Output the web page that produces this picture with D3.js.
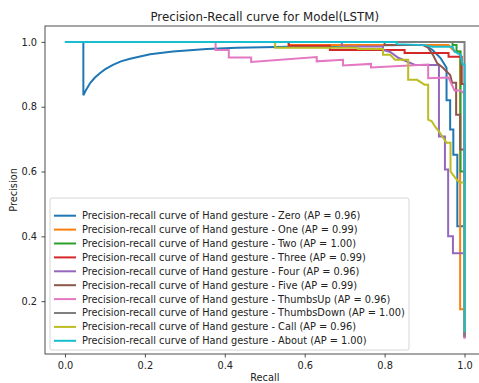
<!DOCTYPE html>
<html>
<head>
<meta charset="utf-8">
<script src="https://cdn.jsdelivr.net/npm/d3@7"></script>
<style>
  body { margin: 0; background: #fff; }
  svg { font-family: "DejaVu Sans", sans-serif; }
</style>
</head>
<body>
<div id="chart"></div>
<script>
// class names and AP scores shown in the legend
const classNames = ['Zero', 'One', 'Two', 'Three', 'Four', 'Five', 'ThumbsUp', 'ThumbsDown', 'Call', 'About'];
const apValues = [0.96, 0.99, 1.00, 0.99, 0.96, 0.99, 0.96, 1.00, 0.96, 1.00];

// [recall, precision] points
const zeroPR = [[0, 1], [0.046, 1], [0.046, 0.835], [0.052, 0.85], [0.063, 0.873], [0.075, 0.89], [0.088, 0.904],
  [0.1, 0.915], [0.12, 0.929], [0.14, 0.94], [0.163, 0.948], [0.213, 0.962], [0.27, 0.97], [0.355, 0.978],
  [0.43, 0.982], [0.56, 0.985], [0.7, 0.988], [0.85, 0.99], [0.9, 0.99], [0.92, 0.975], [0.94, 0.95],
  [0.955, 0.92], [0.955, 0.82], [0.964, 0.82], [0.964, 0.73], [0.972, 0.73], [0.972, 0.652], [0.982, 0.652],
  [0.982, 0.431], [1.0, 0.431], [1.0, 0.09]];
const onePR = [[0, 1], [0.56, 1], [0.56, 0.99], [0.96, 0.99], [0.975, 0.97], [0.989, 0.97], [0.989, 0.175],
  [1.0, 0.175], [1.0, 0.09]];
const twoPR = [[0, 1], [0.97, 1], [0.97, 0.99], [0.98, 0.99], [0.98, 0.97], [0.99, 0.97], [0.99, 0.6],
  [1.0, 0.6], [1.0, 0.09]];
const threePR = [[0, 1], [0.56, 1], [0.56, 0.988], [0.663, 0.988], [0.663, 0.975], [0.85, 0.975], [0.85, 0.966],
  [0.96, 0.966], [0.96, 0.954], [0.993, 0.954], [0.993, 0.87], [1.0, 0.87], [1.0, 0.09]];
const fourPR = [[0, 1], [0.693, 1], [0.693, 0.986], [0.796, 0.986], [0.796, 0.975], [0.814, 0.969], [0.834, 0.951],
  [0.876, 0.929], [0.936, 0.929], [0.936, 0.708], [0.951, 0.708], [0.951, 0.606], [0.959, 0.606], [0.959, 0.4],
  [0.971, 0.4], [0.971, 0.348], [1.0, 0.348], [1.0, 0.085]];
const fivePR = [[0, 1], [0.8, 1], [0.8, 0.99], [0.896, 0.99], [0.909, 0.982], [0.921, 0.96], [0.931, 0.935],
  [0.946, 0.92], [0.964, 0.898], [0.969, 0.874], [0.979, 0.874], [0.979, 0.775], [0.989, 0.775],
  [0.989, 0.668], [1.0, 0.668], [1.0, 0.09]];
const thumbsUpPR = [[0, 1], [0.377, 1], [0.377, 0.975], [0.41, 0.975], [0.41, 0.952], [0.466, 0.952], [0.466, 0.938],
  [0.63, 0.953], [0.63, 0.94], [0.696, 0.945], [0.696, 0.927], [0.766, 0.932], [0.766, 0.921], [0.909, 0.93],
  [0.909, 0.888], [0.96, 0.89], [0.975, 0.85], [0.99, 0.85], [1.0, 0.84], [1.0, 0.085]];
const thumbsDownPR = [[0, 1], [1.0, 1], [1.0, 0.09]];
const callPR = [[0, 1], [0.526, 1], [0.526, 0.982], [0.733, 0.982], [0.733, 0.978], [0.796, 0.978], [0.796, 0.96],
  [0.814, 0.96], [0.826, 0.945], [0.859, 0.945], [0.859, 0.883], [0.881, 0.883], [0.9, 0.868], [0.909, 0.868],
  [0.909, 0.76], [0.918, 0.755], [0.926, 0.739], [0.936, 0.724], [0.946, 0.705], [0.955, 0.689], [0.965, 0.689],
  [0.965, 0.6], [0.976, 0.582], [0.987, 0.566], [1.0, 0.566], [1.0, 0.105]];
const aboutPR = [[0, 1], [0.83, 1], [0.83, 0.993], [0.9, 0.99], [0.92, 0.985], [0.97, 0.985], [0.975, 0.97],
  [0.99, 0.96], [0.995, 0.93], [1.0, 0.93], [1.0, 0.105]];

const curves = [zeroPR, onePR, twoPR, threePR, fourPR, fivePR, thumbsUpPR, thumbsDownPR, callPR, aboutPR];
const xTicks = [0.0, 0.2, 0.4, 0.6, 0.8, 1.0];
const yTicks = [0.2, 0.4, 0.6, 0.8, 1.0];

const colors = d3.schemeCategory10;
const width = 479, height = 383;
const plot = {left: 45, right: 484.5, top: 26, bottom: 354};
const fontSize = '9.8px';

const svg = d3.select('#chart').append('svg')
  .attr('width', width)
  .attr('height', height);

const x = d3.scaleLinear().domain([-0.05, 1.05]).range([plot.left, plot.right]);
const y = d3.scaleLinear().domain([0.037, 1.049]).range([plot.bottom, plot.top]);

svg.append('clipPath').attr('id', 'plot-clip')
  .append('rect')
  .attr('x', plot.left).attr('y', plot.top)
  .attr('width', plot.right - plot.left).attr('height', plot.bottom - plot.top);

// curves
const line = d3.line().x(d => x(d[0])).y(d => y(d[1]));
svg.append('g').attr('clip-path', 'url(#plot-clip)')
  .selectAll('path')
  .data(curves)
  .enter()
  .append('path')
  .attr('d', line)
  .attr('fill', 'none')
  .attr('stroke', (d, i) => colors[i])
  .attr('stroke-width', 2);

// axes
const xAxis = svg.append('g')
  .attr('transform', `translate(0,${plot.bottom})`)
  .call(d3.axisBottom(x).tickValues(xTicks).tickFormat(d3.format('.1f')).tickSize(3.5).tickPadding(4.5));
const yAxis = svg.append('g')
  .attr('transform', `translate(${plot.left},0)`)
  .call(d3.axisLeft(y).tickValues(yTicks).tickFormat(d3.format('.1f')).tickSize(3.5).tickPadding(4.5));
[xAxis, yAxis].forEach(a => {
  a.select('.domain').remove();
  a.selectAll('text').attr('font-size', fontSize).attr('font-family', '"DejaVu Sans", sans-serif').attr('fill', '#222');
  a.selectAll('line').attr('stroke', '#222').attr('stroke-width', 0.8);
});

// frame
svg.append('rect')
  .attr('x', plot.left).attr('y', plot.top)
  .attr('width', plot.right - plot.left).attr('height', plot.bottom - plot.top)
  .attr('fill', 'none').attr('stroke', '#222').attr('stroke-width', 0.8);

// title and axis labels
svg.append('text')
  .attr('x', (plot.left + plot.right) / 2).attr('y', 20.5)
  .attr('text-anchor', 'middle').attr('font-size', '11.8px').attr('fill', '#222')
  .text('Precision-Recall curve for Model(LSTM)');
svg.append('text')
  .attr('x', (plot.left + plot.right) / 2).attr('y', 381)
  .attr('text-anchor', 'middle').attr('font-size', fontSize).attr('fill', '#222')
  .text('Recall');
svg.append('text')
  .attr('transform', `translate(17,${(plot.top + plot.bottom) / 2}) rotate(-90)`)
  .attr('text-anchor', 'middle').attr('font-size', fontSize).attr('fill', '#222')
  .text('Precision');

// legend
const legend = svg.append('g');
legend.append('rect')
  .attr('x', 50).attr('y', 198).attr('width', 359).attr('height', 152)
  .attr('rx', 2).attr('fill', '#fff').attr('fill-opacity', 0.8)
  .attr('stroke', '#ccc').attr('stroke-width', 0.8);
const rows = legend.selectAll('.row')
  .data(classNames)
  .enter()
  .append('g')
  .attr('class', 'row')
  .attr('transform', (d, i) => `translate(0,${215.7 + i * 13.9})`);
rows.append('line')
  .attr('x1', 54).attr('x2', 76)
  .attr('stroke', (d, i) => colors[i]).attr('stroke-width', 2);
rows.append('text')
  .attr('x', 82).attr('dy', '0.35em')
  .attr('font-size', fontSize).attr('fill', '#222')
  .text((d, i) => `Precision-recall curve of Hand gesture - ${d} (AP = ${apValues[i].toFixed(2)})`);
</script>
</body>
</html>
